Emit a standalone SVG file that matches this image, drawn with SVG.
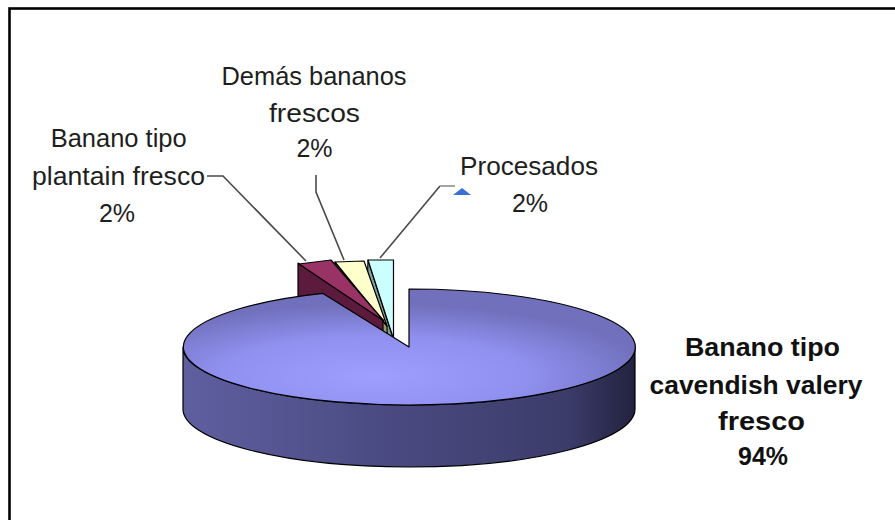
<svg xmlns="http://www.w3.org/2000/svg" width="895" height="520" viewBox="0 0 895 520">
<style>
.lbl{font-family:"Liberation Sans",Arial,sans-serif;font-size:25px;fill:#1e1e1e;text-anchor:middle}
.bold{font-weight:bold;fill:#111}
.edge{stroke:#000;stroke-width:1.2;stroke-linejoin:round}
.conn{fill:none;stroke:#4a4a4a;stroke-width:1.6}
</style>
<defs>
<radialGradient id="topG" cx="0.42" cy="0.75" r="0.62">
<stop offset="0" stop-color="#9e9eff"/>
<stop offset="0.55" stop-color="#9090f0"/>
<stop offset="1" stop-color="#7070bc"/>
</radialGradient>
<linearGradient id="sideG" x1="0" y1="0" x2="1" y2="0">
<stop offset="0" stop-color="#5f5fa0"/>
<stop offset="0.45" stop-color="#4a4a82"/>
<stop offset="0.85" stop-color="#3c3c6a"/>
<stop offset="1" stop-color="#222240"/>
</linearGradient>
</defs>
<rect x="0" y="0" width="895" height="520" fill="#fff"/>
<rect x="9.5" y="8.5" width="900" height="530" fill="none" stroke="#000" stroke-width="2.6"/>

<g id="slice-procesados">
<polygon class="edge" points="368,260 393,338 393,400 366,322" fill="#7fa3a3"/>
<polygon class="edge" points="368,260 393.5,260 393.5,339" fill="#ccffff"/>
</g>
<g id="slice-demas">
<polygon class="edge" points="335,262 387,326 389,390 335,324" fill="#9c9c66"/>
<polygon class="edge" points="335,262 364,261 387,326" fill="#ffffcc"/>
</g>
<g id="slice-plantain">
<polygon class="edge" points="298,263 383,320 383,382 298,325" fill="#5c1a3c"/>
<polygon class="edge" points="299,264 331,260 384,321" fill="#993366"/>
</g>
<g id="slice-cavendish">
<path class="edge" d="M183,347 A226,58 0 0,0 635,347 L635,409 A226,58 0 0,1 183,409 Z" fill="url(#sideG)"/>
<path class="edge" d="M409,347 L409,289 A226,58 0 1,1 323,293.4 Z" fill="url(#topG)"/>
</g>

<g id="connectors">
<polyline class="conn" points="207,176 223,176 306,261"/>
<polyline class="conn" points="316,175 316,192 344,260"/>
<polyline class="conn" points="380,258 440,186"/>
<line x1="440" y1="186" x2="455" y2="186" stroke="#9a9a9a" stroke-width="1.8"/>
<polygon points="462,188 453,195 471,195" fill="#3a6fd8"/>
</g>

<g id="label-plantain">
<text class="lbl" x="118.7" y="147" textLength="136" lengthAdjust="spacingAndGlyphs">Banano tipo</text>
<text class="lbl" x="118.5" y="185" textLength="173" lengthAdjust="spacingAndGlyphs">plantain fresco</text>
<text class="lbl" x="117" y="222">2%</text>
</g>
<g id="label-demas">
<text class="lbl" x="314" y="85" textLength="185" lengthAdjust="spacingAndGlyphs">Demás bananos</text>
<text class="lbl" x="314.5" y="121.7" textLength="91" lengthAdjust="spacingAndGlyphs">frescos</text>
<text class="lbl" x="314.5" y="157">2%</text>
</g>
<g id="label-procesados">
<text class="lbl" x="529" y="175" textLength="138" lengthAdjust="spacingAndGlyphs">Procesados</text>
<text class="lbl" x="530" y="212">2%</text>
</g>
<g id="label-cavendish">
<text class="lbl bold" x="762.5" y="356" textLength="155" lengthAdjust="spacingAndGlyphs">Banano tipo</text>
<text class="lbl bold" x="756" y="394" textLength="213" lengthAdjust="spacingAndGlyphs">cavendish valery</text>
<text class="lbl bold" x="761.5" y="430" textLength="87" lengthAdjust="spacingAndGlyphs">fresco</text>
<text class="lbl bold" x="763" y="465" textLength="50" lengthAdjust="spacingAndGlyphs">94%</text>
</g>
</svg>
